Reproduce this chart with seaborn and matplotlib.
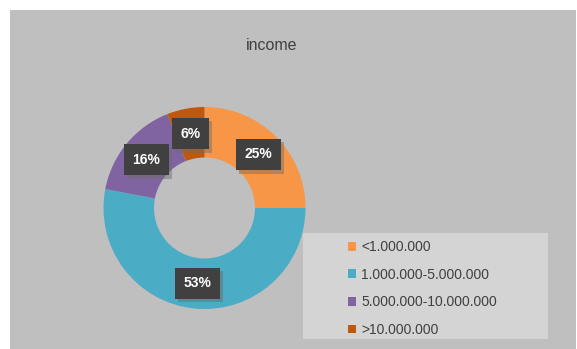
import matplotlib
matplotlib.use("Agg")
import matplotlib.pyplot as plt
import matplotlib.patheffects as pe
from matplotlib.patches import Rectangle, Patch
import seaborn as sns

# Income brackets and their shares (%)
categories = ["<1.000.000", "1.000.000-5.000.000", "5.000.000-10.000.000", ">10.000.000"]
shares = [25, 53, 16, 6]
colors = ["#f79646", "#4bacc6", "#8064a2", "#c0580b"]
title = "income"

sns.set_theme(style="white")
plt.rcParams["font.family"] = ["Liberation Sans", "DejaVu Sans"]

W, H = 577, 349
fig = plt.figure(figsize=(W / 100, H / 100), dpi=100, facecolor="white")

def px_rect(x0, y0, x1, y1, **kw):
    """Rectangle given in pixel coordinates measured from the top-left corner."""
    return Rectangle((x0 / W, 1 - y1 / H), (x1 - x0) / W, (y1 - y0) / H,
                     transform=fig.transFigure, **kw)

# chart area background
fig.add_artist(px_rect(10, 10, 576, 349, facecolor="#bfbfbf", edgecolor="none", zorder=0))

# donut axes: centre (204.5, 208) px, outer radius 101 px
cx, cy, r = 204.5, 208, 101
half = 120
ax = fig.add_axes([(cx - half) / W, (H - cy - half) / H, 2 * half / W, 2 * half / H])
ax.set_facecolor("none")
ax.axis("off")

wedges, texts, autotexts = ax.pie(
    shares, colors=colors, startangle=90, counterclock=False, radius=1,
    wedgeprops=dict(width=0.5, linewidth=0),
    autopct=lambda p: f"{round(p)}%", pctdistance=0.75,
    textprops=dict(color="white", fontsize=10, fontweight="bold"),
)
ax.set_xlim(-half / r, half / r)
ax.set_ylim(-half / r, half / r)
ax.set_aspect("equal")

for t in autotexts:
    t.set_bbox(dict(boxstyle="square,pad=0.62", facecolor="#404040", edgecolor="none"))
    t.get_bbox_patch().set_path_effects([
        pe.SimplePatchShadow(offset=(2.5, -2.5), shadow_rgbFace="#6a6a6a", alpha=0.45),
        pe.Normal(),
    ])

# title
fig.text(272 / W, 1 - 46 / H, title, ha="center", va="center", fontsize=11.5, color="#404040")

# legend panel
fig.add_artist(px_rect(303, 233, 548, 339, facecolor="#d4d4d4", edgecolor="none", zorder=1))
handles = [Patch(facecolor=c, edgecolor="none") for c in colors]
leg = fig.legend(
    handles, categories, loc="upper left", bbox_to_anchor=(348 / W, 1 - 240 / H),
    frameon=False, fontsize=10, handlelength=0.6, handleheight=0.6,
    handletextpad=0.35, labelspacing=0.98, borderpad=0, borderaxespad=0,
    labelcolor="#404040",
)
leg.set_zorder(2)

fig.savefig("out.png", dpi=100, facecolor="white")
